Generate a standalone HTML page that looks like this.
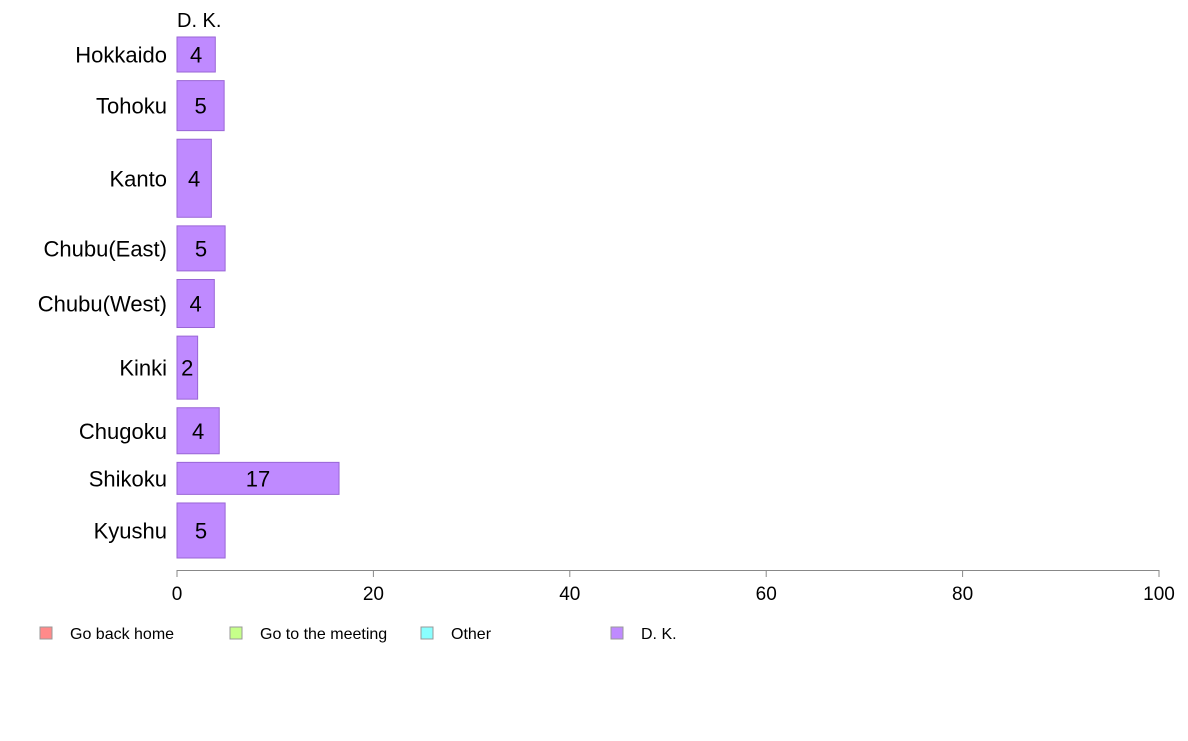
<!DOCTYPE html>
<html><head><meta charset="utf-8"><style>
body{margin:0;background:#fff;font-family:"Liberation Sans",sans-serif}
</style></head><body>
<svg id="chart" width="1188" height="736" xmlns="http://www.w3.org/2000/svg" font-family="Liberation Sans, sans-serif">
<text x="177" y="27" font-size="20">D. K.</text>
<g id="bars"></g>
<g id="axis"></g>
<g id="legend"></g>
</svg>
<script>
const categories=["Hokkaido","Tohoku","Kanto","Chubu(East)","Chubu(West)","Kinki","Chugoku","Shikoku","Kyushu"];
const values=[3.9,4.8,3.5,4.9,3.8,2.1,4.3,16.5,4.9];
const labels=["4","5","4","5","4","2","4","17","5"];
const sampleSizes=[35,50,78,45,48,63,46,32,55];
const ticks=[0,20,40,60,80,100];
const legendItems=["Go back home","Go to the meeting","Other","D. K."];
const legendColors=["#ff8a8a","#c6ff8a","#8affff","#bf8aff"];
const NS="http://www.w3.org/2000/svg";
const x0=177,x1=1159,plotTop=37,plotBottom=558,gap=8.6;
const xs=v=>x0+(v/100)*(x1-x0);
const total=sampleSizes.reduce((a,b)=>a+b,0);
const scaleH=(plotBottom-plotTop-gap*(categories.length-1))/total;
function mk(t,a,p){const e=document.createElementNS(NS,t);for(const k in a)e.setAttribute(k,a[k]);p.appendChild(e);return e;}
const bars=document.getElementById('bars');
let yPos=plotTop;
categories.forEach((c,i)=>{
 const h=sampleSizes[i]*scaleH;
 const r=mk('rect',{x:x0,y:yPos,width:xs(values[i])-x0,height:h,fill:'#bf8aff',stroke:'#9a66d6','stroke-width':1},bars);
 
 
 const t=mk('text',{x:(x0+xs(values[i]))/2,y:yPos+h/2+8,'font-size':22,'text-anchor':'middle'},bars);
 t.textContent=labels[i];
 
 
 const l=mk('text',{x:167,y:yPos+h/2+8,'font-size':22,'text-anchor':'end'},bars);
 l.textContent=c;
 
 
 yPos+=h+gap;
});
const ax=document.getElementById('axis');
const line=mk('line',{x1:x0,x2:x1,y1:570.5,y2:570.5,stroke:'#888'},ax);


ticks.forEach(v=>{
 const tk=mk('line',{x1:xs(v),x2:xs(v),y1:570,y2:577,stroke:'#888'},ax);
 
 
 const t=mk('text',{x:xs(v),y:600,'font-size':19,'text-anchor':'middle'},ax);
 t.textContent=v;
 
 
});
const lg=document.getElementById('legend');
const lx=[40,230,421,611];
legendItems.forEach((s,i)=>{
 const r=mk('rect',{x:lx[i],y:627,width:12,height:12,fill:legendColors[i],stroke:'#999'},lg);
 
 
 const t=mk('text',{x:lx[i]+30,y:639,'font-size':16},lg);
 t.textContent=s;
 
 
});
</script>
</body></html>
